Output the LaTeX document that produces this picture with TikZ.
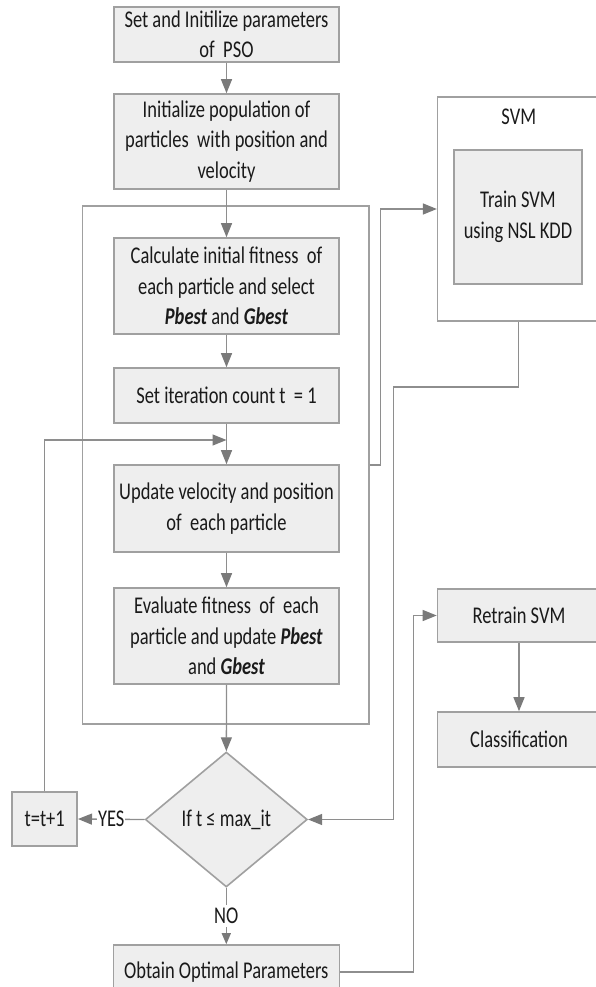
\documentclass[tikz,border=0pt]{standalone}
\usepackage{fontspec}
\setmainfont{Carlito}[FakeStretch=0.77]
\usetikzlibrary{arrows.meta,shapes.geometric}
\definecolor{boxfill}{HTML}{EEEEEE}
\definecolor{boxline}{HTML}{A0A0A0}
\definecolor{wire}{HTML}{8E8E8E}
\definecolor{tipgray}{HTML}{7A7A7A}
\definecolor{ink}{HTML}{1A1A1A}
\newcommand{\bi}[1]{\textbf{\textit{#1}}}
\begin{document}
\begin{tikzpicture}[x=1pt,y=-1pt,
  font=\fontsize{24}{30.5}\selectfont, text=ink,
  stepbox/.style={draw=boxline, fill=boxfill, line width=1.6pt, align=center, inner sep=0pt},
  framebox/.style={draw=boxline, line width=1.4pt, inner sep=0pt},
  wireline/.style={draw=wire, line width=1.3pt},
  arr/.style={wireline, -{Triangle[length=14pt,width=11pt,fill=tipgray,color=tipgray]}},
  smallarr/.style={wireline, -{Triangle[length=11pt,width=9pt,fill=tipgray,color=tipgray]}},
  ]
\useasboundingbox (0,0) rectangle (595,987);

% loop frame around the PSO iteration steps
\node[framebox, minimum width=286.5pt, minimum height=518pt] (loop) at (225.6,465) {};

% SVM group
\node[framebox, minimum width=161.5pt, minimum height=224pt] (svm) at (518.3,209) {};
\node (svmlabel) at (518.8,117) {SVM};
\node[stepbox, minimum width=128pt, minimum height=134pt] (train) at (518,217) {Train SVM\\using NSL KDD};

% main column
\node[stepbox, minimum width=225pt, minimum height=55pt] (init) at (226.5,34.5) {Set and Initilize parameters\\of\ \ PSO};
\node[stepbox, minimum width=225pt, minimum height=95pt] (pop) at (226.5,141.5) {Initialize population of\\particles\ \ with position and\\velocity};
\node[stepbox, minimum width=225pt, minimum height=96pt] (fit) at (226.5,286) {Calculate initial fitness\ \ of\\each particle and select\\\bi{Pbest} and \bi{Gbest}};
\node[stepbox, minimum width=225pt, minimum height=55pt] (iter) at (226.5,395.5) {Set iteration count t\ \ = 1};
\node[stepbox, minimum width=225pt, minimum height=87pt] (upd) at (226.5,508.5) {Update velocity and position\\of\ \ each particle};
\node[stepbox, minimum width=225pt, minimum height=96pt] (eval) at (226.5,636) {Evaluate fitness\ \ of\ \ each\\particle and update \bi{Pbest}\\and \bi{Gbest}};
\node[stepbox, diamond, minimum width=162pt, minimum height=135pt] (dia) at (226.3,819.5) {If t ≤ max\_it};
\node[stepbox, minimum width=65pt, minimum height=54pt] (inc) at (44.7,819) {t=t+1};
\node[stepbox, minimum width=226pt, minimum height=54pt] (opt) at (226.3,972) {Obtain Optimal Parameters};

% right column
\node[stepbox, minimum width=163pt, minimum height=53pt] (retrain) at (519,615.5) {Retrain SVM};
\node[stepbox, minimum width=163pt, minimum height=55pt] (cls) at (519,739.5) {Classification};

% turning points
\coordinate (merge) at (226.5,440);
\coordinate (loopturn) at (380.3,465);
\coordinate (svmturn) at (393.5,387);
\coordinate (optturn) at (413.7,616);

% connectors
\draw[arr] (init) -- (pop);
\draw[arr] (pop) -- (fit);
\draw[arr] (fit) -- (iter);
\draw[arr] (iter) -- (upd);
\draw[arr] (upd) -- (eval);
\draw[arr] (eval) -- (dia);
\draw[arr] (inc.north) |- (merge);
\draw[arr] (dia.west) -- node[fill=white, inner xsep=1pt, inner ysep=0pt] {YES} (inc.east);
\draw[smallarr] (dia.south) -- node[fill=white, inner xsep=0pt, inner ysep=3pt] {NO} (opt.north);
\draw[arr] (loop.east) -- (loopturn) |- (svm.west);
\draw[arr] (svm.south) |- (svmturn) |- (dia.east);
\draw[arr] (opt.east) -| (optturn) |- (retrain.west);
\draw[arr] (retrain) -- (cls);
\end{tikzpicture}
\end{document}
